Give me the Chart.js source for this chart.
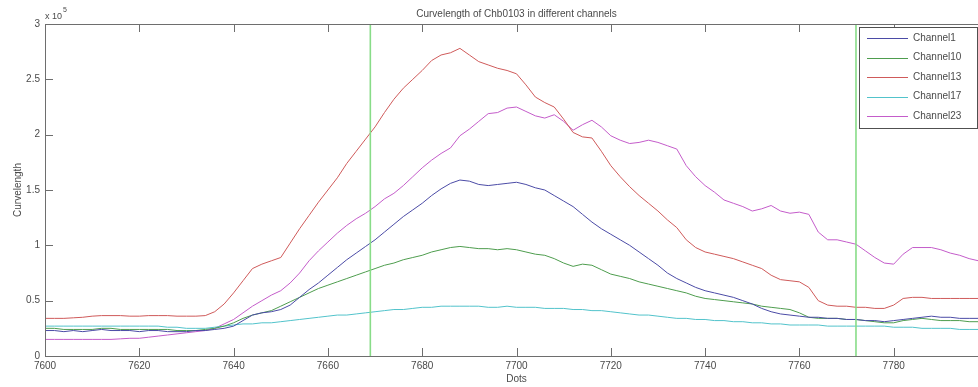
<!DOCTYPE html>
<html>
<head>
<meta charset="utf-8">
<script src="https://cdn.jsdelivr.net/npm/chart.js@4.4.1/dist/chart.umd.min.js"></script>
<style>
  html, body { margin: 0; padding: 0; background: #fff; overflow: hidden; }
  #wrap { width: 1000px; height: 387px; }
</style>
</head>
<body>
<div id="wrap"><canvas id="canvas" width="1000" height="387"></canvas></div>
<script>
// sample positions (dots), every 2 dots
var dots = Array.from({length: 101}, function (_, i) { return 7600 + 2 * i; });

// curvelength per channel, in units of 1e5
var channel1 = [
  .23,.23,.22,.23,.22,.23,.24,.23,.23,.23,
  .22,.23,.23,.22,.22,.22,.23,.23,.24,.25,
  .27,.32,.37,.39,.40,.42,.46,.53,.60,.66,
  .73,.80,.87,.93,.99,1.05,1.12,1.19,1.26,1.32,
  1.38,1.45,1.51,1.56,1.59,1.58,1.55,1.54,1.55,1.56,
  1.57,1.55,1.52,1.50,1.45,1.40,1.35,1.28,1.21,1.15,
  1.10,1.05,1.00,.94,.88,.82,.75,.70,.66,.62,
  .59,.57,.55,.53,.50,.47,.43,.40,.38,.37,
  .36,.35,.35,.34,.34,.33,.33,.32,.32,.31,
  .32,.33,.34,.35,.36,.35,.35,.34,.34,.34,
  .34
];
var channel10 = [
  .25,.25,.24,.24,.24,.24,.25,.25,.24,.24,
  .24,.24,.24,.24,.23,.23,.23,.24,.25,.27,
  .30,.34,.37,.39,.41,.45,.49,.53,.57,.61,
  .64,.67,.70,.73,.76,.79,.82,.84,.87,.89,
  .91,.94,.96,.98,.99,.98,.97,.97,.96,.97,
  .96,.94,.92,.91,.88,.84,.81,.83,.82,.78,
  .74,.72,.70,.67,.65,.63,.61,.59,.57,.54,
  .52,.51,.50,.49,.48,.47,.45,.44,.43,.42,
  .39,.35,.34,.34,.34,.33,.33,.32,.31,.30,
  .30,.32,.33,.34,.33,.32,.32,.32,.31,.31,
  .31
];
var channel13 = [
  .34,.34,.34,.345,.35,.36,.365,.365,.365,.36,
  .36,.365,.365,.365,.36,.36,.36,.365,.40,.47,
  .57,.68,.79,.83,.86,.89,1.02,1.15,1.27,1.39,
  1.50,1.61,1.74,1.85,1.96,2.07,2.20,2.32,2.42,2.50,
  2.58,2.67,2.72,2.74,2.78,2.72,2.66,2.63,2.60,2.58,
  2.55,2.45,2.34,2.29,2.25,2.14,2.02,1.98,1.97,1.85,
  1.72,1.62,1.53,1.45,1.38,1.31,1.23,1.16,1.05,.98,
  .94,.92,.90,.88,.85,.82,.79,.73,.69,.68,
  .67,.62,.50,.46,.45,.45,.44,.44,.43,.43,
  .46,.52,.53,.53,.52,.52,.52,.52,.52,.52,
  .52
];
var channel17 = [
  .27,.27,.27,.27,.27,.27,.27,.27,.27,.27,
  .27,.27,.27,.26,.26,.25,.25,.25,.26,.27,
  .28,.29,.29,.30,.30,.31,.32,.33,.34,.35,
  .36,.37,.37,.38,.39,.40,.41,.42,.42,.43,
  .44,.44,.45,.45,.45,.45,.45,.44,.44,.45,
  .44,.44,.44,.43,.43,.43,.42,.42,.41,.41,
  .40,.39,.38,.37,.37,.36,.35,.34,.34,.33,
  .33,.32,.32,.31,.31,.30,.30,.29,.29,.28,
  .28,.28,.28,.27,.27,.27,.27,.27,.27,.27,
  .26,.26,.26,.25,.25,.25,.25,.24,.24,.24,
  .24
];
var channel23 = [
  .15,.15,.15,.15,.15,.15,.15,.15,.155,.16,
  .16,.17,.18,.19,.20,.21,.22,.23,.25,.29,
  .33,.39,.45,.50,.55,.59,.66,.75,.86,.95,
  1.03,1.11,1.18,1.24,1.29,1.35,1.42,1.47,1.54,1.62,
  1.70,1.77,1.83,1.88,1.99,2.05,2.12,2.19,2.20,2.24,
  2.25,2.21,2.17,2.15,2.18,2.12,2.04,2.09,2.13,2.07,
  1.99,1.95,1.92,1.93,1.95,1.93,1.90,1.87,1.72,1.62,
  1.54,1.48,1.41,1.38,1.35,1.31,1.33,1.36,1.31,1.29,
  1.30,1.28,1.12,1.05,1.05,1.03,1.01,.95,.89,.84,
  .83,.92,.98,.98,.98,.96,.93,.91,.88,.86,
  .85
];

var channelNames = ['Channel1', 'Channel10', 'Channel13', 'Channel17', 'Channel23'];
var channelColors = ['#4b4ba6', '#4e9d4e', '#cf5a5a', '#52c3cb', '#c45cca'];
var channelValues = [channel1, channel10, channel13, channel17, channel23];

// green vertical markers
var markers = [7669, 7772];

var font = '"Liberation Sans", Arial, sans-serif';
var textColor = '#4a4a4a';

function toPoints(vals) {
  return vals.map(function (v, i) { return {x: dots[i], y: v}; });
}

var datasets = channelValues.map(function (vals, k) {
  return {
    label: channelNames[k],
    data: toPoints(vals),
    borderColor: channelColors[k],
    borderWidth: 1,
    pointRadius: 0,
    tension: 0,
    order: 1
  };
});
markers.forEach(function (m) {
  datasets.push({
    label: 'marker',
    data: [{x: m, y: 0}, {x: m, y: 3}],
    borderColor: '#88dc88',
    borderWidth: 1.6,
    pointRadius: 0,
    order: 0
  });
});

// MATLAB-like box, inward ticks, titles and legend
var matlabFrame = {
  id: 'matlabFrame',
  afterDraw: function (chart) {
    var ctx = chart.ctx, a = chart.chartArea;
    var xs = chart.scales.x, ys = chart.scales.y;
    ctx.save();
    ctx.strokeStyle = '#6e6e6e';
    ctx.lineWidth = 1;
    ctx.beginPath();
    ctx.moveTo(a.left + 0.5, a.top + 0.5);
    ctx.lineTo(a.right, a.top + 0.5);
    ctx.moveTo(a.left + 0.5, a.top);
    ctx.lineTo(a.left + 0.5, a.bottom + 0.5);
    ctx.lineTo(a.right, a.bottom + 0.5);
    xs.ticks.forEach(function (t) {
      var px = Math.round(xs.getPixelForValue(t.value)) + 0.5;
      ctx.moveTo(px, a.bottom);
      ctx.lineTo(px, a.bottom - 8);
      ctx.moveTo(px, a.top);
      ctx.lineTo(px, a.top + 8);
    });
    ys.ticks.forEach(function (t) {
      var py = Math.round(ys.getPixelForValue(t.value)) + 0.5;
      ctx.moveTo(a.left, py);
      ctx.lineTo(a.left + 8, py);
    });
    ctx.stroke();

    ctx.fillStyle = textColor;
    ctx.textAlign = 'center';
    ctx.textBaseline = 'middle';
    ctx.font = '10px ' + font;
    var cx = (a.left + a.right) / 2;
    ctx.fillText('Curvelength of Chb0103 in different channels', cx, 14);
    ctx.fillText('Dots', cx, 379);

    ctx.save();
    ctx.translate(18, (a.top + a.bottom) / 2);
    ctx.rotate(-Math.PI / 2);
    ctx.fillText('Curvelength', 0, 0);
    ctx.restore();

    ctx.textAlign = 'left';
    ctx.textBaseline = 'alphabetic';
    ctx.font = '9px ' + font;
    ctx.fillText('x 10', a.left, 19);
    ctx.font = '7px ' + font;
    ctx.fillText('5', a.left + 18, 12);

    // legend box
    var lx = 859, ly = 27, lw = 118, lh = 101;
    ctx.fillStyle = '#fff';
    ctx.fillRect(lx, ly, lw, lh);
    ctx.strokeStyle = '#505050';
    ctx.strokeRect(lx + 0.5, ly + 0.5, lw, lh);
    ctx.font = '10px ' + font;
    ctx.textBaseline = 'middle';
    channelNames.forEach(function (name, k) {
      var yy = 38 + k * 19.5;
      ctx.strokeStyle = channelColors[k];
      ctx.beginPath();
      ctx.moveTo(867, Math.round(yy) + 0.5);
      ctx.lineTo(908, Math.round(yy) + 0.5);
      ctx.stroke();
      ctx.fillStyle = textColor;
      ctx.fillText(name, 913, yy);
    });
    ctx.restore();
  }
};

new Chart(document.getElementById('canvas'), {
  type: 'line',
  data: {datasets: datasets},
  options: {
    responsive: false,
    animation: false,
    devicePixelRatio: 1,
    layout: {padding: {top: 24, right: 12, left: 0, bottom: 0}},
    plugins: {
      legend: {display: false},
      tooltip: {enabled: false}
    },
    scales: {
      x: {
        type: 'linear',
        min: 7600,
        max: 7800,
        grid: {display: false, drawTicks: false},
        border: {display: false},
        ticks: {
          stepSize: 20,
          padding: 4,
          color: textColor,
          font: {family: font, size: 10},
          maxRotation: 0,
          callback: function (v) { return v >= 7800 ? '' : String(v); }
        },
        afterFit: function (s) { s.height = 31; }
      },
      y: {
        min: 0,
        max: 3,
        grid: {display: false, drawTicks: false},
        border: {display: false},
        ticks: {
          stepSize: 0.5,
          padding: 5,
          color: textColor,
          font: {family: font, size: 10},
          callback: function (v) { return String(Math.round(v * 10) / 10); }
        },
        afterFit: function (s) { s.width = 45; }
      }
    }
  },
  plugins: [matlabFrame]
});
</script>
</body>
</html>
